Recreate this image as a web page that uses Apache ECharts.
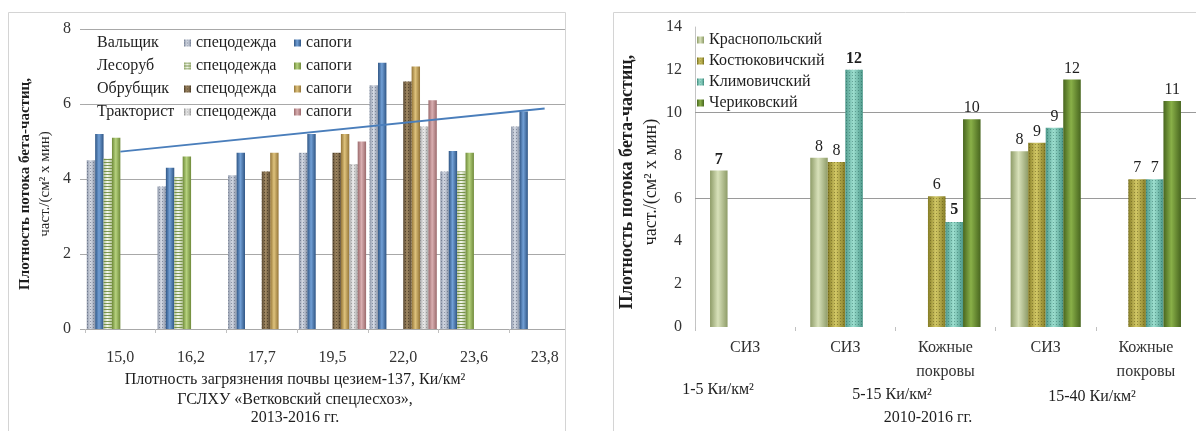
<!DOCTYPE html>
<html>
<head>
<meta charset="utf-8">
<script src="https://cdn.jsdelivr.net/npm/echarts@6/dist/echarts.min.js"></script>
<style>
html, body { margin: 0; padding: 0; background: #fff; }
#chart { width: 1196px; height: 431px; }
</style>
</head>
<body>
<div id="chart"></div>
<script>
// ---- левый график: ГСЛХУ «Ветковский спецлесхоз» ----
const densityCats = ['15,0', '16,2', '17,7', '19,5', '22,0', '23,6', '23,8'];
const workers = ['Вальщик', 'Лесоруб', 'Обрубщик', 'Тракторист'];
const valClothes = [4.5, 3.8, 4.1, 4.7, 6.5, 4.2, 5.4];
const valBoots   = [5.2, 4.3, 4.7, 5.2, 7.1, 4.75, 5.8];
const lesClothes = [4.55, 4.05, null, null, null, 4.2, null];
const lesBoots   = [5.1, 4.6, null, null, null, 4.7, null];
const obrClothes = [null, null, 4.2, 4.7, 6.6, null, null];
const obrBoots   = [null, null, 4.7, 5.2, 7.0, null, null];
const trkClothes = [null, null, null, 4.4, 5.4, null, null];
const trkBoots   = [null, null, null, 5.0, 6.1, null, null];
const trendEnds  = [4.73, 5.88];   // линия тренда, концы
const leftTitle  = ['Плотность загрязнения почвы цезием-137, Ки/км²', 'ГСЛХУ «Ветковский спецлесхоз»,', '2013-2016 гг.'];

// ---- правый график ----
const zoneCats   = ['СИЗ', 'СИЗ', 'Кожные\nпокровы', 'СИЗ', 'Кожные\nпокровы'];
const zoneLabels = ['1-5 Ки/км²', '5-15 Ки/км²', '15-40 Ки/км²'];
const rightYear  = '2010-2016 гг.';
const districts  = ['Краснопольский', 'Костюковичский', 'Климовичский', 'Чериковский'];
const krasn = [7.3, 7.9, null, 8.2, null];
const kost  = [null, 7.7, 6.1, 8.6, 6.9];
const klim  = [null, 12.0, 4.9, 9.3, 6.9];
const cher  = [null, null, 9.7, 11.55, 10.55];
const rightGridLines = [6, 10];

const yName = ['Плотность потока бета-частиц,', 'част./(см² х мин)'];

const FONT = '"Liberation Serif", "Times New Roman", serif';
const INK = '#1e1e1e';

function cyl(dark, light) {
    return {
        type: 'linear', x: 0, y: 0, x2: 1, y2: 0,
        colorStops: [
            {offset: 0, color: dark},
            {offset: 0.45, color: light},
            {offset: 1, color: dark}
        ]
    };
}
const dots = c => ({symbol: 'rect', symbolSize: 1, dashArrayX: [1, 2], dashArrayY: [1, 2], color: c});
const hlines = c => ({symbol: 'rect', symbolSize: 1, dashArrayX: [10, 0], dashArrayY: [1, 2], color: c});

function leftBar(name, data, color, decal) {
    return {
        name: name, type: 'bar', xAxisIndex: 0, yAxisIndex: 0,
        data: data, barGap: '0%', barCategoryGap: '5%',
        itemStyle: {color: color, decal: decal || null},
        emphasis: {disabled: true}
    };
}

// какие подписи в правом графике жирные / с белой подложкой
const boldLabels = {'Краснопольский': [0], 'Климовичский': [1, 2]};
const boxedLabels = {'Климовичский': [2]};

function rightBar(name, data, color, decal) {
    const bold = boldLabels[name] || [];
    const boxed = boxedLabels[name] || [];
    return {
        name: name, type: 'bar', xAxisIndex: 1, yAxisIndex: 1,
        barGap: '0%', barCategoryGap: '30%',
        data: data.map((v, i) => {
            const item = {value: v};
            if (bold.indexOf(i) >= 0 || boxed.indexOf(i) >= 0) {
                item.label = {};
                if (bold.indexOf(i) >= 0) item.label.fontWeight = 'bold';
                if (boxed.indexOf(i) >= 0) {
                    item.label.backgroundColor = '#fff';
                    item.label.padding = [1, 3];
                }
            }
            return item;
        }),
        itemStyle: {color: color, decal: decal || null},
        label: {
            show: true, position: 'top', distance: 3,
            formatter: p => Math.round(p.value),
            fontFamily: FONT, fontSize: 16, color: INK
        },
        emphasis: {disabled: true}
    };
}

const series = [
    leftBar(workers[0] + ' спецодежда', valClothes, cyl('#8b95a8', '#d5dae4'), dots('rgba(60,70,95,0.45)')),
    leftBar(workers[0] + ' сапоги', valBoots, cyl('#2f5584', '#72a0d6')),
    leftBar(workers[1] + ' спецодежда', lesClothes, cyl('#b3c296', '#f4f7ee'), hlines('rgba(105,135,55,0.85)')),
    leftBar(workers[1] + ' сапоги', lesBoots, cyl('#6f8a3a', '#b6d27e')),
    leftBar(workers[2] + ' спецодежда', obrClothes, cyl('#5b4a33', '#a08863'), dots('rgba(35,25,10,0.5)')),
    leftBar(workers[2] + ' сапоги', obrBoots, cyl('#947538', '#dec27c')),
    leftBar(workers[3] + ' спецодежда', trkClothes, cyl('#a5a5a5', '#eeeeee'), dots('rgba(90,90,90,0.4)')),
    leftBar(workers[3] + ' сапоги', trkBoots, cyl('#9b6a6c', '#d9afb1')),
    {
        name: 'тренд', type: 'line', xAxisIndex: 0, yAxisIndex: 0,
        data: [[0, trendEnds[0]], [densityCats.length - 1, trendEnds[1]]],
        symbol: 'none', silent: true, z: 5,
        lineStyle: {color: '#4a7ebb', width: 2}
    },
    rightBar(districts[0], krasn, cyl('#8e9c68', '#d8e1ba')),
    rightBar(districts[1], kost, cyl('#857c25', '#d2c866'), dots('rgba(80,70,15,0.45)')),
    rightBar(districts[2], klim, cyl('#4c988a', '#9ddfcf'), dots('rgba(25,85,75,0.4)')),
    rightBar(districts[3], cher, cyl('#48661f', '#89b048')),
    {
        name: 'сетка', type: 'line', xAxisIndex: 1, yAxisIndex: 1, data: [],
        markLine: {
            z: 1, silent: true, symbol: 'none', label: {show: false},
            lineStyle: {color: '#9a9a9a', type: 'solid', width: 1},
            data: rightGridLines.map(v => ({yAxis: v}))
        }
    }
];

const legendText = {fontFamily: FONT, fontSize: 16, color: INK, lineHeight: 16};
const legendBase = {
    orient: 'vertical', padding: 0, itemWidth: 7, itemHeight: 7, itemGap: 7,
    icon: 'rect', selectedMode: false, textStyle: legendText
};

const graphic = [
    // перекрывает сетку левого графика за его рамкой
    {type: 'rect', z: 10, shape: {x: 566, y: 20, width: 46, height: 320}, style: {fill: '#fff'}},
    {type: 'rect', z: 11, shape: {x: 8.5, y: 12.5, width: 557, height: 440}, style: {fill: 'none', stroke: '#d4d4d4', lineWidth: 1}},
    {type: 'rect', z: 11, shape: {x: 613.5, y: 12.5, width: 600, height: 440}, style: {fill: 'none', stroke: '#d4d4d4', lineWidth: 1}}
];
workers.forEach((w, i) => graphic.push({
    type: 'text', z: 12, x: 97, y: 43 + i * 23,
    style: {text: w, fontFamily: FONT, fontSize: 16, fill: INK, verticalAlign: 'middle'}
}));
leftTitle.forEach((t, i) => graphic.push({
    type: 'text', z: 12, x: 295, y: [380, 400, 418][i],
    style: {text: t, fontFamily: FONT, fontSize: 16, fill: INK, align: 'center', verticalAlign: 'middle'}
}));
const zonePos = [[718, 390], [892, 395], [1092, 397]];
zoneLabels.forEach((t, i) => graphic.push({
    type: 'text', z: 12, x: zonePos[i][0], y: zonePos[i][1],
    style: {text: t, fontFamily: FONT, fontSize: 16, fill: INK, align: 'center', verticalAlign: 'middle'}
}));
graphic.push({
    type: 'text', z: 12, x: 928, y: 418,
    style: {text: rightYear, fontFamily: FONT, fontSize: 16, fill: INK, align: 'center', verticalAlign: 'middle'}
});
// подписи осей Y (повёрнутые)
[[35, 184, 15, 20], [639, 182, 18, 24]].forEach(([x, y, fs, lh]) => graphic.push({
    type: 'text', z: 12, x: x, y: y, rotation: Math.PI / 2,
    style: {
        text: '{a|' + yName[0] + '}\n{b|' + yName[1] + '}',
        align: 'center', verticalAlign: 'middle',
        rich: {
            a: {fontFamily: FONT, fontSize: fs, fontWeight: 'bold', fill: INK, lineHeight: lh, align: 'center'},
            b: {fontFamily: FONT, fontSize: fs, fill: INK, lineHeight: lh, align: 'center'}
        }
    }
}));

const option = {
    animation: false,
    backgroundColor: '#fff',
    grid: [
        {left: 85, top: 29, width: 495, height: 300},
        {left: 695, top: 27, width: 504, height: 300}
    ],
    legend: [
        Object.assign({}, legendBase, {
            left: 184, top: 35,
            data: workers.map(w => w + ' спецодежда'),
            formatter: n => n.split(' ')[1]
        }),
        Object.assign({}, legendBase, {
            left: 294, top: 35,
            data: workers.map(w => w + ' сапоги'),
            formatter: n => n.split(' ')[1]
        }),
        Object.assign({}, legendBase, {
            left: 697, top: 32, itemGap: 5,
            data: districts
        })
    ],
    xAxis: [
        {
            gridIndex: 0, type: 'category', data: densityCats,
            axisLine: {show: false},
            axisTick: {show: true, length: 4, lineStyle: {color: '#c0c0c0'}},
            axisLabel: {margin: 21, fontFamily: FONT, fontSize: 16, color: '#333'}
        },
        {
            gridIndex: 1, type: 'category', data: zoneCats,
            axisLine: {show: false},
            axisTick: {show: true, length: 4, lineStyle: {color: '#c0c0c0'}},
            axisLabel: {margin: 9, fontFamily: FONT, fontSize: 16, color: '#333', lineHeight: 24}
        }
    ],
    yAxis: [
        {
            gridIndex: 0, type: 'value', min: 0, max: 8, interval: 2,
            axisLine: {show: false},
            axisTick: {show: true, length: 5, lineStyle: {color: '#aaa'}},
            axisLabel: {margin: 14, fontFamily: FONT, fontSize: 16, color: '#333'},
            splitLine: {lineStyle: {color: '#a8a8a8'}}
        },
        {
            gridIndex: 1, type: 'value', min: 0, max: 14, interval: 2,
            axisLine: {show: true, lineStyle: {color: '#c4c4c4'}},
            axisTick: {show: false},
            axisLabel: {margin: 13, fontFamily: FONT, fontSize: 16, color: '#333'},
            splitLine: {show: false}
        }
    ],
    graphic: graphic,
    series: series
};

const chart = echarts.init(document.getElementById('chart'), null, {renderer: 'canvas'});
chart.setOption(option);
</script>
</body>
</html>
